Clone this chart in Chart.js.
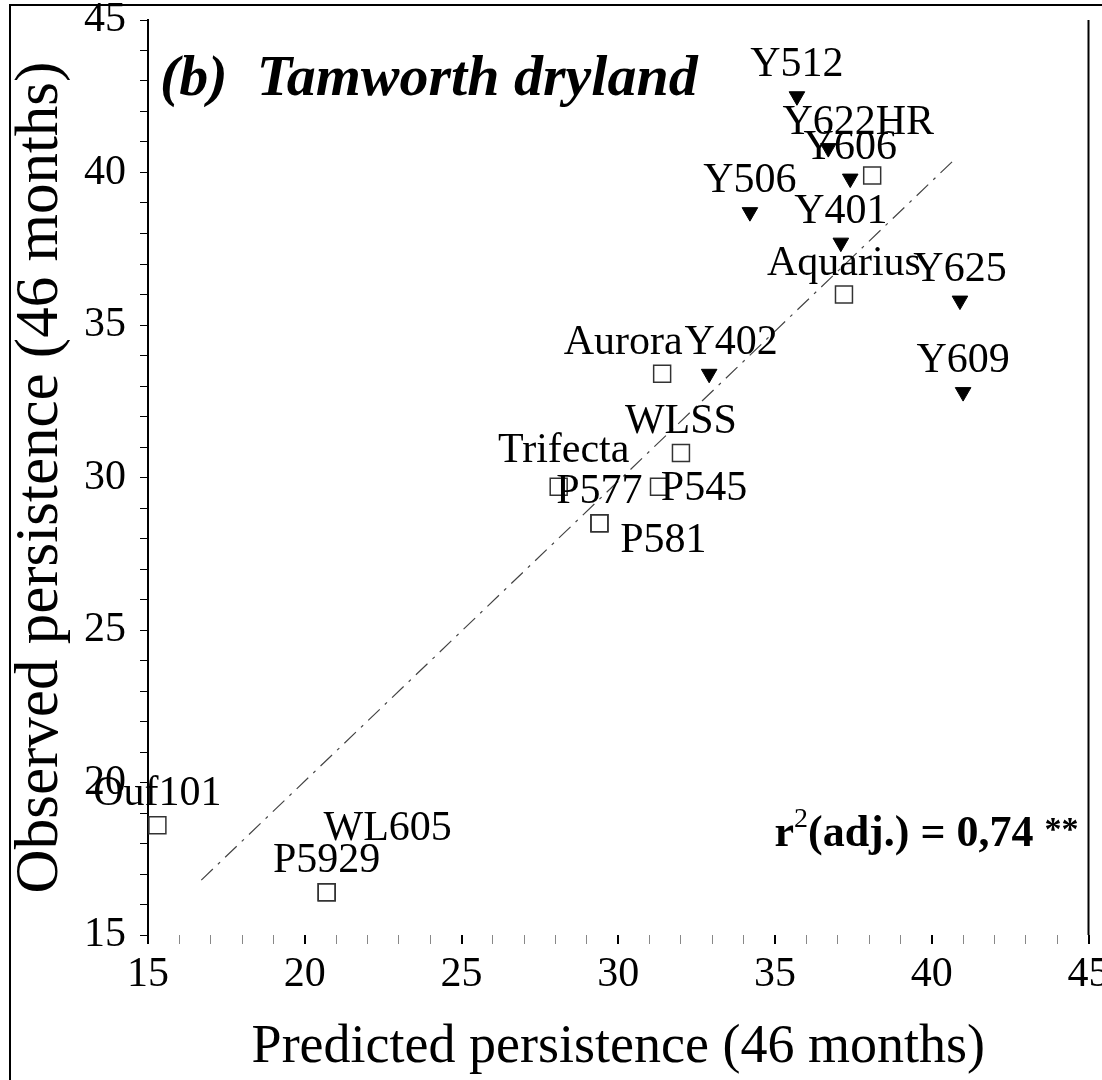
<!DOCTYPE html>
<html lang="en">
<head>
<meta charset="UTF-8">
<script src="https://cdn.jsdelivr.net/npm/chart.js"></script>
<style>
  body { margin: 0; background: #fff; }
  #wrap { width: 1102px; height: 1080px; }
</style>
<title>Tamworth dryland</title>
</head>
<body>
<div id="wrap"><canvas id="chart" width="1102" height="1080"></canvas></div>
<script>
// Y lines (filled down triangles)
const yNames = ["Y512", "Y622HR", "Y606", "Y506", "Y401", "Y625", "Y609", "Y402"];
const yPredicted = [35.7, 36.7, 37.4, 34.2, 37.1, 40.9, 41.0, 32.9];
const yObserved = [42.5, 40.8, 39.8, 38.7, 37.7, 35.8, 32.8, 33.4];

// other cultivars (open squares)
const oNames = ["Aquarius", "Aurora", "WLSS", "Trifecta", "P577", "P545", "P581", "Ouf101", "P5929", "WL605", ""];
const oPredicted = [37.2, 31.4, 32.0, 28.1, 29.4, 31.3, 29.4, 15.3, 20.7, 20.7, 38.1];
const oObserved = [36.0, 33.4, 30.8, 29.7, 28.5, 29.7, 28.5, 18.6, 16.4, 16.4, 39.9];

// fitted line end points
const fitPredicted = [16.7, 40.8];
const fitObserved = [16.8, 40.5];

const axisTicks = [15, 20, 25, 30, 35, 40, 45];

// where a label sits relative to its marker (px), default is just above
const defaultNudge = [0, -31];
const labelNudge = {
    "Y622HR": [30, -25],
    "Aurora": [-39, -31],
    "Y402": [22, -31],
    "Trifecta": [5, -36],
    "P545": [45, 2],
    "P581": [64, 18],
    "WL605": [61, -63]
};

const serif = "'Liberation Serif', 'DejaVu Serif', serif";

function toPoints(xs, ys) {
    return xs.map((x, i) => ({ x: x, y: ys[i] }));
}

const pointLabels = {
    id: "pointLabels",
    afterDatasetsDraw(chart) {
        const ctx = chart.ctx;
        ctx.save();
        ctx.font = "42px " + serif;
        ctx.fillStyle = "#000";
        ctx.textAlign = "center";
        ctx.textBaseline = "middle";
        chart.data.datasets.forEach((ds, di) => {
            if (!ds.names) return;
            chart.getDatasetMeta(di).data.forEach((el, i) => {
                const name = ds.names[i];
                if (!name) return;
                const n = labelNudge[name] || defaultNudge;
                ctx.fillText(name, el.x + n[0], el.y + n[1]);
            });
        });
        ctx.restore();
    }
};

const decorations = {
    id: "decorations",
    afterDraw(chart) {
        const ctx = chart.ctx;
        const area = chart.chartArea;
        ctx.save();
        ctx.strokeStyle = "#000";
        // outer frame (left + top)
        ctx.lineWidth = 2;
        ctx.beginPath();
        ctx.moveTo(10, 1080);
        ctx.lineTo(10, 5);
        ctx.lineTo(1102, 5);
        ctx.stroke();
        // right axis line
        ctx.lineWidth = 2;
        ctx.beginPath();
        ctx.moveTo(area.right, area.top);
        ctx.lineTo(area.right, area.bottom);
        ctx.stroke();

        // panel title
        ctx.fillStyle = "#000";
        ctx.textAlign = "left";
        ctx.textBaseline = "alphabetic";
        ctx.font = "bold italic 58px " + serif;
        ctx.fillText("(b)  Tamworth dryland", 160, 95);

        // r squared note
        const parts = [
            { t: "r", f: "bold 44px " + serif, dy: 0 },
            { t: "2", f: "28px " + serif, dy: -19 },
            { t: "(adj.) = 0,74 ", f: "bold 44px " + serif, dy: 0 },
            { t: "**", f: "bold 34px " + serif, dy: -6 }
        ];
        let total = 0;
        parts.forEach(p => { ctx.font = p.f; total += ctx.measureText(p.t).width; });
        let x = area.right - 10 - total;
        parts.forEach(p => {
            ctx.font = p.f;
            ctx.fillText(p.t, x, 846 + p.dy);
            x += ctx.measureText(p.t).width;
        });
        ctx.restore();
    }
};

new Chart(document.getElementById("chart"), {
    type: "scatter",
    data: {
        datasets: [
            {
                label: "Y lines",
                names: yNames,
                data: toPoints(yPredicted, yObserved),
                pointStyle: "triangle",
                rotation: 180,
                pointRadius: 9,
                backgroundColor: "#000",
                borderColor: "#000",
                borderWidth: 1
            },
            {
                label: "Other cultivars",
                names: oNames,
                data: toPoints(oPredicted, oObserved),
                pointStyle: "rect",
                pointRadius: 12,
                backgroundColor: "rgba(0,0,0,0)",
                borderColor: "#333",
                borderWidth: 1.5
            },
            {
                type: "line",
                label: "Fit",
                data: toPoints(fitPredicted, fitObserved),
                borderColor: "#444",
                borderWidth: 1.2,
                borderDash: [16, 7, 3, 7],
                pointRadius: 0,
                fill: false
            }
        ]
    },
    options: {
        responsive: false,
        animation: false,
        layout: { padding: { top: 20, right: 12, left: 0, bottom: 0 } },
        plugins: {
            legend: { display: false },
            tooltip: { enabled: false }
        },
        scales: {
            x: {
                type: "linear",
                min: 15,
                max: 45,
                border: { display: false },
                grid: {
                    drawOnChartArea: false,
                    tickLength: 9,
                    color: c => (c.tick && axisTicks.includes(c.tick.value)) ? "#000" : "#888",
                    lineWidth: c => (c.tick && axisTicks.includes(c.tick.value)) ? 2 : 1
                },
                ticks: {
                    stepSize: 1,
                    autoSkip: false,
                    maxRotation: 0,
                    padding: 6,
                    color: "#000",
                    font: { family: serif, size: 42 },
                    callback: v => axisTicks.includes(v) ? v : ""
                },
                title: {
                    display: true,
                    text: "Predicted persistence (46 months)",
                    color: "#000",
                    font: { family: serif, size: 54 },
                    padding: { top: 0, bottom: 0 }
                },
                afterFit: s => { s.height = 145; s.paddingLeft = 0; s.paddingRight = 0; }
            },
            y: {
                min: 15,
                max: 45,
                border: { display: true, color: "#000", width: 2 },
                grid: {
                    drawOnChartArea: false,
                    tickLength: 8,
                    color: "#000",
                    lineWidth: 1
                },
                ticks: {
                    stepSize: 1,
                    autoSkip: false,
                    padding: 14,
                    color: "#000",
                    font: { family: serif, size: 42 },
                    callback: v => axisTicks.includes(v) ? v : ""
                },
                title: {
                    display: true,
                    text: "Observed persistence (46 months)",
                    color: "#000",
                    font: { family: serif, size: 61 },
                    padding: { top: 4, bottom: 0 }
                },
                afterFit: s => { s.width = 148; s.paddingTop = 0; s.paddingBottom = 0; }
            }
        }
    },
    plugins: [pointLabels, decorations]
});
</script>
</body>
</html>
